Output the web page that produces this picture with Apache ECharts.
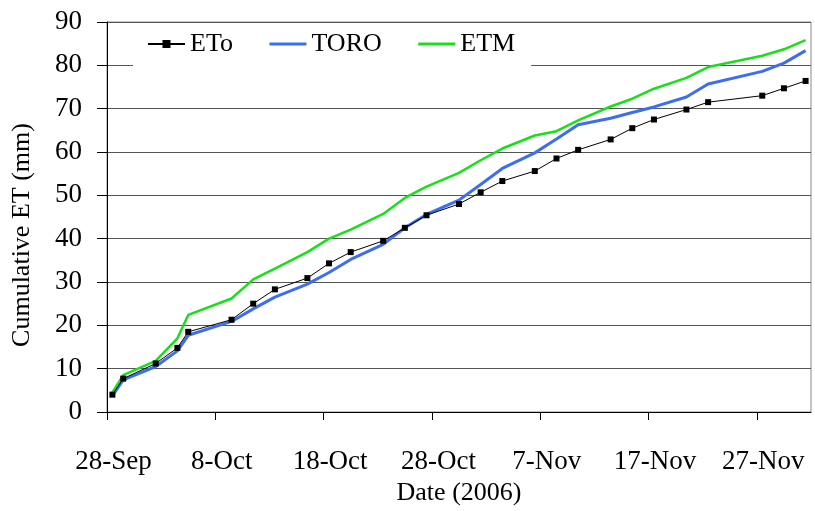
<!DOCTYPE html>
<html>
<head>
<meta charset="utf-8">
<script src="https://cdn.jsdelivr.net/npm/echarts@6/dist/echarts.min.js"></script>
<style>
html,body{margin:0;padding:0;background:#fff;}
#chart{width:815px;height:511px;}
</style>
</head>
<body>
<div id="chart"></div>
<script>
const dates = ['2006-09-28','2006-09-29','2006-10-02','2006-10-04','2006-10-05','2006-10-09','2006-10-11','2006-10-13','2006-10-16','2006-10-18','2006-10-20','2006-10-23','2006-10-25','2006-10-27','2006-10-30','2006-11-01','2006-11-03','2006-11-06','2006-11-08','2006-11-10','2006-11-13','2006-11-15','2006-11-17','2006-11-20','2006-11-22','2006-11-27','2006-11-29','2006-12-01'];
const eto  = [4.0, 7.7, 11.2, 14.8, 18.5, 21.3, 25.0, 28.3, 30.9, 34.3, 36.9, 39.5, 42.5, 45.4, 48.0, 50.7, 53.3, 55.6, 58.5, 60.5, 62.9, 65.5, 67.5, 69.8, 71.5, 73.0, 74.7, 76.4];
const toro = [3.75, 7.4, 10.5, 14.1, 17.7, 20.9, 23.8, 26.5, 29.5, 32.2, 35.2, 38.7, 42.5, 45.6, 48.9, 52.5, 56.2, 59.8, 63.0, 66.3, 67.8, 69.1, 70.4, 72.7, 75.7, 78.6, 80.5, 83.4];
const etm  = [4.5, 8.5, 11.8, 17.0, 22.4, 26.2, 30.6, 33.1, 36.9, 40.0, 42.1, 45.7, 49.4, 52.0, 55.2, 58.1, 60.8, 63.8, 64.8, 67.3, 70.5, 72.3, 74.6, 77.1, 79.6, 82.2, 83.7, 85.8];
const tickLabels = ['28-Sep','8-Oct','18-Oct','28-Oct','7-Nov','17-Nov','27-Nov'];
const tickDays = [0, 10, 20, 30, 40, 50, 60];
const yTicks = [0, 10, 20, 30, 40, 50, 60, 70, 80, 90];

const startMs = Date.UTC(2006, 8, 28);
const dayOf = s => { const p = s.split('-').map(Number); return (Date.UTC(p[0], p[1]-1, p[2]) - startMs) / 86400000; };
// Excel date axis places each day's point in the middle of its day slot
const xs = dates.map(d => dayOf(d) + 0.5);
const pairs = vals => xs.map((x, i) => [x, vals[i]]);

const FONT = "'Liberation Serif', 'Times New Roman', serif";
const chart = echarts.init(document.getElementById('chart'), null, {renderer: 'canvas'});
chart.setOption({
  animation: false,
  backgroundColor: '#fff',
  grid: {left: 107, right: 4, top: 22, bottom: 99, show: true, borderColor: '#888', borderWidth: 1, containLabel: false},
  legend: {
    data: [
      {name: 'ETo'},
      {name: 'TORO', itemStyle: {opacity: 0}, lineStyle: {width: 3}},
      {name: 'ETM', itemStyle: {opacity: 0}, lineStyle: {width: 3}}
    ],
    left: 133, top: 24,
    backgroundColor: '#fff',
    padding: [7, 16, 10, 14],
    itemWidth: 37, itemHeight: 10, itemGap: 35,
    textStyle: {fontFamily: FONT, fontSize: 26, color: '#000'}
  },
  xAxis: {
    type: 'value', min: 0, max: 65,
    name: 'Date (2006)', nameLocation: 'middle', nameGap: 65,
    nameTextStyle: {fontFamily: FONT, fontSize: 26, color: '#000'},
    axisLine: {show: true, lineStyle: {color: '#000', width: 1}},
    axisTick: {show: true, inside: false, length: 8, lineStyle: {color: '#000'}, customValues: tickDays},
    axisLabel: {
      fontFamily: FONT, fontSize: 27, color: '#000', margin: 36,
      customValues: tickDays.map(d => d + 0.6),
      formatter: v => tickLabels[Math.round((v - 0.6) / 10)] || ''
    },
    splitLine: {show: false}
  },
  yAxis: {
    type: 'value', min: 0, max: 90, interval: 10,
    name: 'Cumulative ET (mm)', nameLocation: 'middle', nameGap: 72,
    nameTextStyle: {fontFamily: FONT, fontSize: 26, color: '#000', padding: [0, 36, 0, 0]},
    axisLine: {show: true, lineStyle: {color: '#000', width: 1}},
    axisTick: {show: true, inside: false, length: 10, lineStyle: {color: '#000'}},
    axisLabel: {fontFamily: FONT, fontSize: 27, color: '#000', margin: 25,
      formatter: v => yTicks.indexOf(v) >= 0 ? String(v) : ''},
    splitLine: {show: true, lineStyle: {color: '#555', width: 1}}
  },
  series: [
    {name: 'TORO', type: 'line', data: pairs(toro), showSymbol: false, symbol: 'none',
      lineStyle: {color: '#3d6ef2', width: 3}, itemStyle: {color: '#3d6ef2'}, z: 2},
    {name: 'ETM', type: 'line', data: pairs(etm), showSymbol: false, symbol: 'none',
      lineStyle: {color: '#18e018', width: 2.5}, itemStyle: {color: '#18e018'}, z: 3},
    {name: 'ETo', type: 'line', data: pairs(eto), symbol: 'rect', symbolSize: 6,
      lineStyle: {color: '#000', width: 1}, itemStyle: {color: '#000'}, z: 4}
  ]
});
</script>
</body>
</html>
